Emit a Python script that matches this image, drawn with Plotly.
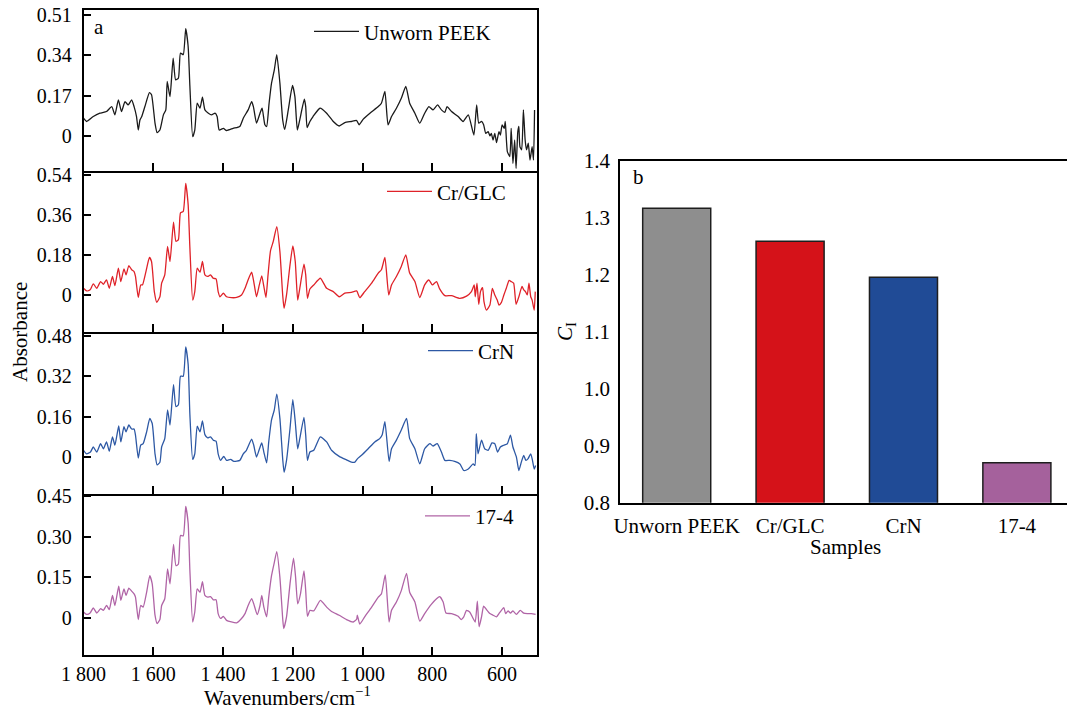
import plotly.graph_objects as go

# ---------------- FTIR spectra (wavenumber / absorbance) ----------------
wn_peek = [1800, 1791, 1772, 1753, 1734, 1719, 1710, 1700, 1691, 1681,
           1672, 1662, 1655, 1648, 1643, 1638, 1633, 1624, 1611, 1605,
           1595, 1589, 1581, 1571, 1564, 1560, 1552, 1543, 1536, 1528,
           1522, 1514, 1507, 1500, 1495, 1487, 1481, 1474, 1466, 1459,
           1452, 1442, 1433, 1423, 1417, 1411, 1399, 1390, 1371, 1352,
           1342, 1328, 1318, 1313, 1304, 1294, 1288, 1280, 1275, 1268,
           1261, 1253, 1246, 1237, 1229, 1223, 1213, 1201, 1194, 1187,
           1180, 1167, 1163, 1159, 1151, 1142, 1122, 1103, 1084, 1067,
           1051, 1032, 1017, 1010, 998, 979, 955, 946, 936, 927,
           917, 903, 889, 876, 865, 850, 836, 822, 810, 798,
           785, 774, 764, 758, 745, 726, 712, 697, 681, 673,
           667, 659, 653, 647, 640, 635, 631, 626, 621, 616,
           609, 605, 600, 594, 591, 585, 578, 574, 569, 564,
           560, 555, 552, 549, 544, 539, 534, 530, 525, 520,
           514, 510, 507]
abs_peek = [0.075, 0.061, 0.082, 0.096, 0.103, 0.124, 0.089, 0.152, 0.103, 0.145,
            0.131, 0.152, 0.124, 0.082, 0.025, 0.068, 0.082, 0.124, 0.183, 0.174,
            0.054, 0.014, 0.025, 0.089, 0.110, 0.230, 0.166, 0.329, 0.237, 0.244,
            0.350, 0.343, 0.453, 0.378, 0.209, -0.003, 0.025, 0.138, 0.117, 0.164,
            0.110, 0.096, 0.089, 0.096, 0.082, 0.025, 0.032, 0.023, 0.032, 0.040,
            0.075, 0.110, 0.145, 0.124, 0.054, 0.096, 0.117, 0.047, 0.040, 0.138,
            0.223, 0.279, 0.343, 0.223, 0.068, 0.028, 0.110, 0.213, 0.166, 0.025,
            0.068, 0.155, 0.124, 0.035, 0.061, 0.082, 0.117, 0.096, 0.061, 0.042,
            0.056, 0.061, 0.065, 0.047, 0.071, 0.096, 0.124, 0.138, 0.188, 0.047,
            0.082, 0.117, 0.159, 0.209, 0.138, 0.096, 0.054, 0.096, 0.124, 0.110,
            0.131, 0.110, 0.100, 0.124, 0.103, 0.082, 0.061, 0.089, 0.004, 0.131,
            0.054, 0.061, 0.047, 0.011, 0.018, 0.000, 0.011, -0.017, 0.011, -0.028,
            0.018, 0.004, 0.047, 0.032, 0.061, -0.066, -0.087, 0.032, -0.116, -0.017,
            -0.137, 0.018, 0.040, -0.045, -0.059, 0.110, -0.017, -0.059, -0.031, -0.102,
            -0.045, -0.102, 0.110]

wn_crglc = [1800, 1791, 1781, 1772, 1762, 1751, 1743, 1734, 1726, 1717,
            1710, 1700, 1693, 1684, 1678, 1670, 1662, 1655, 1651, 1643,
            1636, 1631, 1621, 1611, 1605, 1597, 1590, 1581, 1576, 1567,
            1559, 1552, 1542, 1535, 1528, 1522, 1514, 1507, 1500, 1495,
            1487, 1481, 1474, 1466, 1459, 1452, 1444, 1436, 1428, 1420,
            1414, 1409, 1399, 1390, 1376, 1361, 1347, 1337, 1328, 1318,
            1312, 1304, 1296, 1289, 1283, 1277, 1271, 1264, 1256, 1246,
            1237, 1229, 1225, 1218, 1208, 1200, 1193, 1186, 1180, 1168,
            1163, 1158, 1151, 1140, 1121, 1103, 1084, 1067, 1051, 1032,
            1017, 1008, 994, 974, 955, 946, 936, 925, 917, 903,
            889, 876, 865, 850, 836, 822, 810, 800, 788, 779,
            764, 745, 721, 702, 688, 680, 677, 672, 667, 662,
            656, 652, 645, 635, 628, 621, 614, 609, 602, 595,
            588, 580, 574, 567, 560, 552, 543, 538, 533, 528,
            523, 518, 514, 508, 505]
abs_crglc = [0.030, 0.018, 0.023, 0.050, 0.030, 0.060, 0.048, 0.068, 0.030, 0.083,
             0.042, 0.120, 0.060, 0.117, 0.090, 0.132, 0.113, 0.105, 0.083, -0.011,
             0.045, 0.045, 0.105, 0.168, 0.150, 0.015, -0.033, -0.008, 0.053, 0.090,
             0.218, 0.150, 0.327, 0.240, 0.248, 0.368, 0.375, 0.500, 0.405, 0.210,
             -0.023, 0.015, 0.120, 0.102, 0.150, 0.090, 0.083, 0.090, 0.075, 0.072,
             0.015, -0.008, 0.008, -0.008, -0.012, -0.011, 0.000, 0.030, 0.068, 0.102,
             0.060, -0.008, 0.045, 0.086, 0.038, -0.011, 0.090, 0.198, 0.240, 0.306,
             0.195, 0.000, -0.060, 0.000, 0.135, 0.220, 0.150, -0.023, 0.030, 0.138,
             0.090, -0.015, 0.027, 0.045, 0.075, 0.030, 0.015, -0.008, 0.008, 0.012,
             0.018, -0.012, 0.015, 0.053, 0.098, 0.113, 0.168, 0.000, 0.045, 0.083,
             0.128, 0.180, 0.098, 0.060, -0.012, 0.045, 0.068, 0.045, 0.060, 0.027,
             -0.003, -0.003, -0.015, -0.005, 0.015, 0.045, -0.008, 0.053, -0.042, 0.015,
             0.033, -0.030, -0.068, -0.045, 0.030, 0.000, -0.023, -0.045, -0.033, 0.000,
             0.030, 0.065, 0.060, 0.053, -0.042, -0.008, 0.038, 0.023, 0.015, 0.000,
             0.053, -0.008, -0.023, -0.068, 0.015]

wn_crn = [1800, 1791, 1780, 1772, 1762, 1751, 1743, 1734, 1726, 1717,
          1710, 1699, 1693, 1684, 1678, 1670, 1662, 1655, 1651, 1643,
          1636, 1629, 1619, 1610, 1603, 1595, 1589, 1581, 1576, 1567,
          1559, 1552, 1542, 1535, 1528, 1522, 1514, 1507, 1500, 1495,
          1487, 1481, 1474, 1466, 1459, 1452, 1444, 1436, 1428, 1420,
          1414, 1407, 1398, 1390, 1378, 1369, 1352, 1342, 1333, 1318,
          1312, 1304, 1296, 1289, 1283, 1275, 1269, 1261, 1253, 1246,
          1237, 1229, 1225, 1218, 1208, 1200, 1193, 1186, 1180, 1168,
          1163, 1158, 1151, 1140, 1121, 1103, 1089, 1067, 1046, 1032,
          1022, 1015, 1003, 984, 965, 951, 944, 936, 924, 917,
          903, 889, 874, 865, 850, 836, 822, 807, 798, 786,
          774, 764, 750, 736, 721, 710, 697, 683, 678, 674,
          669, 659, 650, 640, 629, 621, 613, 605, 595, 585,
          576, 569, 559, 552, 545, 538, 532, 526, 518, 513,
          508, 504]
abs_crn = [0.027, 0.013, 0.020, 0.040, 0.020, 0.053, 0.033, 0.060, 0.023, 0.080,
           0.047, 0.123, 0.060, 0.120, 0.100, 0.127, 0.111, 0.111, 0.087, -0.004,
           0.047, 0.053, 0.100, 0.153, 0.133, 0.013, -0.031, -0.020, 0.040, 0.073,
           0.187, 0.127, 0.287, 0.200, 0.207, 0.320, 0.320, 0.436, 0.367, 0.167,
           -0.009, 0.013, 0.123, 0.100, 0.143, 0.089, 0.076, 0.080, 0.067, 0.063,
           0.013, -0.013, 0.003, -0.013, -0.009, -0.017, -0.013, 0.013, 0.027, 0.071,
           0.047, 0.000, 0.031, 0.056, 0.020, -0.023, 0.060, 0.147, 0.187, 0.249,
           0.153, -0.007, -0.060, -0.013, 0.113, 0.227, 0.140, 0.033, 0.073, 0.157,
           0.087, -0.013, 0.020, 0.027, 0.080, 0.060, 0.027, 0.003, -0.011, -0.020,
           -0.020, -0.007, 0.007, 0.033, 0.060, 0.073, 0.087, 0.140, -0.017, 0.033,
           0.067, 0.107, 0.153, 0.073, 0.033, -0.027, 0.033, 0.053, 0.044, 0.053,
           0.020, -0.013, -0.013, -0.017, -0.027, -0.053, -0.047, -0.027, -0.033, 0.093,
           0.013, 0.067, 0.033, 0.027, 0.056, 0.053, 0.020, 0.040, 0.047, 0.053,
           0.087, 0.040, 0.000, -0.053, -0.020, 0.007, -0.013, -0.007, 0.013, -0.013,
           -0.047, -0.033]

wn_174 = [1800, 1791, 1781, 1772, 1762, 1751, 1743, 1734, 1726, 1717,
          1710, 1699, 1693, 1684, 1678, 1670, 1662, 1655, 1651, 1643,
          1636, 1629, 1619, 1610, 1603, 1595, 1589, 1581, 1576, 1567,
          1559, 1552, 1542, 1535, 1528, 1522, 1514, 1507, 1500, 1495,
          1487, 1481, 1474, 1466, 1459, 1452, 1444, 1436, 1428, 1420,
          1414, 1407, 1399, 1390, 1376, 1361, 1347, 1337, 1328, 1318,
          1312, 1302, 1294, 1289, 1283, 1275, 1269, 1261, 1253, 1246,
          1237, 1229, 1226, 1218, 1208, 1198, 1192, 1186, 1178, 1168,
          1163, 1158, 1151, 1140, 1121, 1103, 1089, 1067, 1046, 1027,
          1017, 1015, 1008, 994, 974, 955, 946, 935, 924, 917,
          903, 889, 874, 865, 850, 836, 822, 803, 788, 779,
          769, 761, 745, 726, 717, 710, 702, 693, 683, 677,
          671, 666, 659, 653, 645, 635, 626, 616, 609, 602,
          595, 590, 583, 576, 569, 559, 548, 538, 528, 516,
          504]
abs_174 = [0.022, 0.013, 0.018, 0.037, 0.018, 0.034, 0.028, 0.046, 0.031, 0.083,
           0.046, 0.117, 0.065, 0.107, 0.083, 0.110, 0.099, 0.089, 0.077, -0.006,
           0.046, 0.040, 0.095, 0.156, 0.126, 0.010, -0.021, -0.006, 0.046, 0.071,
           0.181, 0.126, 0.272, 0.193, 0.199, 0.305, 0.303, 0.412, 0.351, 0.174,
           -0.015, 0.022, 0.107, 0.095, 0.134, 0.083, 0.077, 0.079, 0.067, 0.067,
           0.016, -0.002, 0.006, -0.009, -0.015, -0.018, -0.002, 0.016, 0.046, 0.071,
           0.052, 0.012, 0.046, 0.083, 0.040, 0.004, 0.077, 0.156, 0.205, 0.245,
           0.150, -0.002, -0.039, 0.004, 0.126, 0.221, 0.150, 0.052, 0.089, 0.174,
           0.101, 0.006, 0.028, 0.026, 0.065, 0.040, 0.024, 0.010, -0.006, -0.015,
           -0.005, 0.010, -0.023, 0.004, 0.040, 0.077, 0.089, 0.159, -0.015, 0.028,
           0.059, 0.101, 0.165, 0.095, 0.059, -0.012, 0.016, 0.050, 0.071, 0.079,
           0.059, 0.018, 0.016, 0.006, -0.006, 0.004, 0.028, 0.022, -0.002, -0.015,
           0.062, -0.033, 0.004, 0.044, 0.031, 0.016, 0.010, 0.004, 0.016, 0.028,
           0.038, 0.016, 0.026, 0.018, 0.026, 0.013, 0.028, 0.018, 0.016, 0.016,
           0.013]

# Per-panel y tick step (ticks at 0, 1, 2, 3 steps)
tick_steps = [0.17, 0.18, 0.16, 0.15]
panel_ranges = [(-0.146, 0.534), (-0.166, 0.558), (-0.146, 0.495), (-0.137, 0.458)]

wn_tickvals = [1800, 1600, 1400, 1200, 1000, 800, 600]
wn_ticktext = ["1 800", "1 600", "1 400", "1 200", "1 000", "800", "600"]

# ---------------- Crystallinity index bar data ----------------
samples = ["Unworn PEEK", "Cr/GLC", "CrN", "17-4"]
ci_values = [1.317, 1.259, 1.196, 0.870]
bar_colors = ["#8e8e8e", "#d51219", "#204b96", "#a5619c"]

series = [
    ("Unworn PEEK", wn_peek, abs_peek, "#1a1a1a"),
    ("Cr/GLC", wn_crglc, abs_crglc, "#df2229"),
    ("CrN", wn_crn, abs_crn, "#2d58a4"),
    ("17-4", wn_174, abs_174, "#b064a6"),
]

FONT = "Liberation Serif"
FS = 20
W, H = 1067, 713

def px(x):
    return x / W

def py(y):
    return 1 - y / H

# panel pixel boundaries (top, bottom)
panel_px = [(9.5, 170.5), (170.5, 332), (332, 494), (494, 655)]
left_x = (83.5, 537)

# legend positions: (line start x, centre y)
legend_pos = [(309, 31.7), (382, 191.7), (423, 351), (420, 516.3)]

fig = go.Figure()
layout = dict(
    width=W, height=H,
    margin=dict(l=0, r=0, t=0, b=0, pad=0, autoexpand=False),
    paper_bgcolor="white", plot_bgcolor="white",
    font=dict(family=FONT, size=FS, color="black"),
    showlegend=True,
)

for i, (name, xs, ys, col) in enumerate(series):
    k = i + 1
    sfx = "" if k == 1 else str(k)
    lg = "legend" if k == 1 else f"legend{k}"
    fig.add_trace(go.Scatter(
        x=xs, y=ys, mode="lines", name=name,
        line=dict(color=col, width=1.3, shape="spline", smoothing=0.5),
        xaxis=f"x{sfx}", yaxis=f"y{sfx}", legend=lg,
    ))
    top, bot = panel_px[i]
    d = tick_steps[i]
    layout[f"xaxis{sfx}"] = dict(
        domain=[px(left_x[0]), px(left_x[1])], anchor=f"y{sfx}",
        range=[1800, 500], tickvals=wn_tickvals, ticktext=wn_ticktext,
        ticks="inside", ticklen=8, tickwidth=1.5, tickcolor="black",
        showline=True, linecolor="black", linewidth=1.5,
        mirror=(k == 1),  # lower panels share the upper panel's bottom line
        showgrid=False, zeroline=False, showticklabels=(k == 4),
        tickfont=dict(size=FS, family=FONT), automargin=False,
    )
    layout[f"yaxis{sfx}"] = dict(
        domain=[py(bot), py(top)], anchor=f"x{sfx}",
        range=list(panel_ranges[i]),
        tickvals=[0, d, 2 * d, 3 * d],
        ticktext=["0", f"{d:.2f}", f"{2*d:.2f}", f"{3*d:.2f}"],
        ticks="inside", ticklen=8, tickwidth=1.5, tickcolor="black",
        showline=True, linecolor="black", linewidth=1.5, mirror=True,
        showgrid=False, zeroline=False, ticklabelstandoff=6,
        tickfont=dict(size=FS, family=FONT), automargin=False,
    )
    lx, ly = legend_pos[i]
    layout[lg] = dict(
        x=px(lx), y=py(ly), xanchor="left", yanchor="middle",
        bgcolor="rgba(0,0,0,0)", borderwidth=0, itemwidth=45,
        font=dict(size=21, family=FONT), tracegroupgap=0,
    )

# bar chart
fig.add_trace(go.Bar(
    x=samples, y=ci_values, width=0.6, showlegend=False,
    marker=dict(color=bar_colors, line=dict(color="#1e1e1e", width=1.5)),
    xaxis="x5", yaxis="y5",
))
bar_top, bar_bot = 161, 502.7
layout["xaxis5"] = dict(
    domain=[px(620), 1.0], anchor="y5", range=[-0.5, 3.442],
    type="category", ticks="", showline=True, linecolor="black", linewidth=1.5,
    mirror=True, showgrid=False, tickfont=dict(size=21, family=FONT),
    ticklabelstandoff=3, automargin=False,
)
layout["yaxis5"] = dict(
    domain=[py(bar_bot), py(bar_top)], anchor="x5", range=[0.8, 1.4],
    dtick=0.1, tickformat=".1f", ticks="", showline=True, linecolor="black",
    linewidth=1.5, mirror=False, showgrid=False, zeroline=False,
    tickfont=dict(size=21, family=FONT), ticklabelstandoff=4, automargin=False,
)

annotations = [
    dict(text="a", x=px(99), y=py(27.5)),
    dict(text="b", x=px(638), y=py(176.7)),
    dict(text="Absorbance", x=px(20), y=py(332), textangle=-90),
    dict(text="Wavenumbers/cm<sup>\u22121</sup>", x=px(287), y=py(696)),
    dict(text="Samples", x=px(845), y=py(547)),
    dict(text="<i>C</i><sub>I</sub>", x=px(566), y=py(332), textangle=-90),
]
for a in annotations:
    a.update(xref="paper", yref="paper", showarrow=False,
             xanchor="center", yanchor="middle",
             font=dict(size=21, family=FONT, color="black"))
layout["annotations"] = annotations

fig.update_layout(**layout)
fig.write_html("out.html")
